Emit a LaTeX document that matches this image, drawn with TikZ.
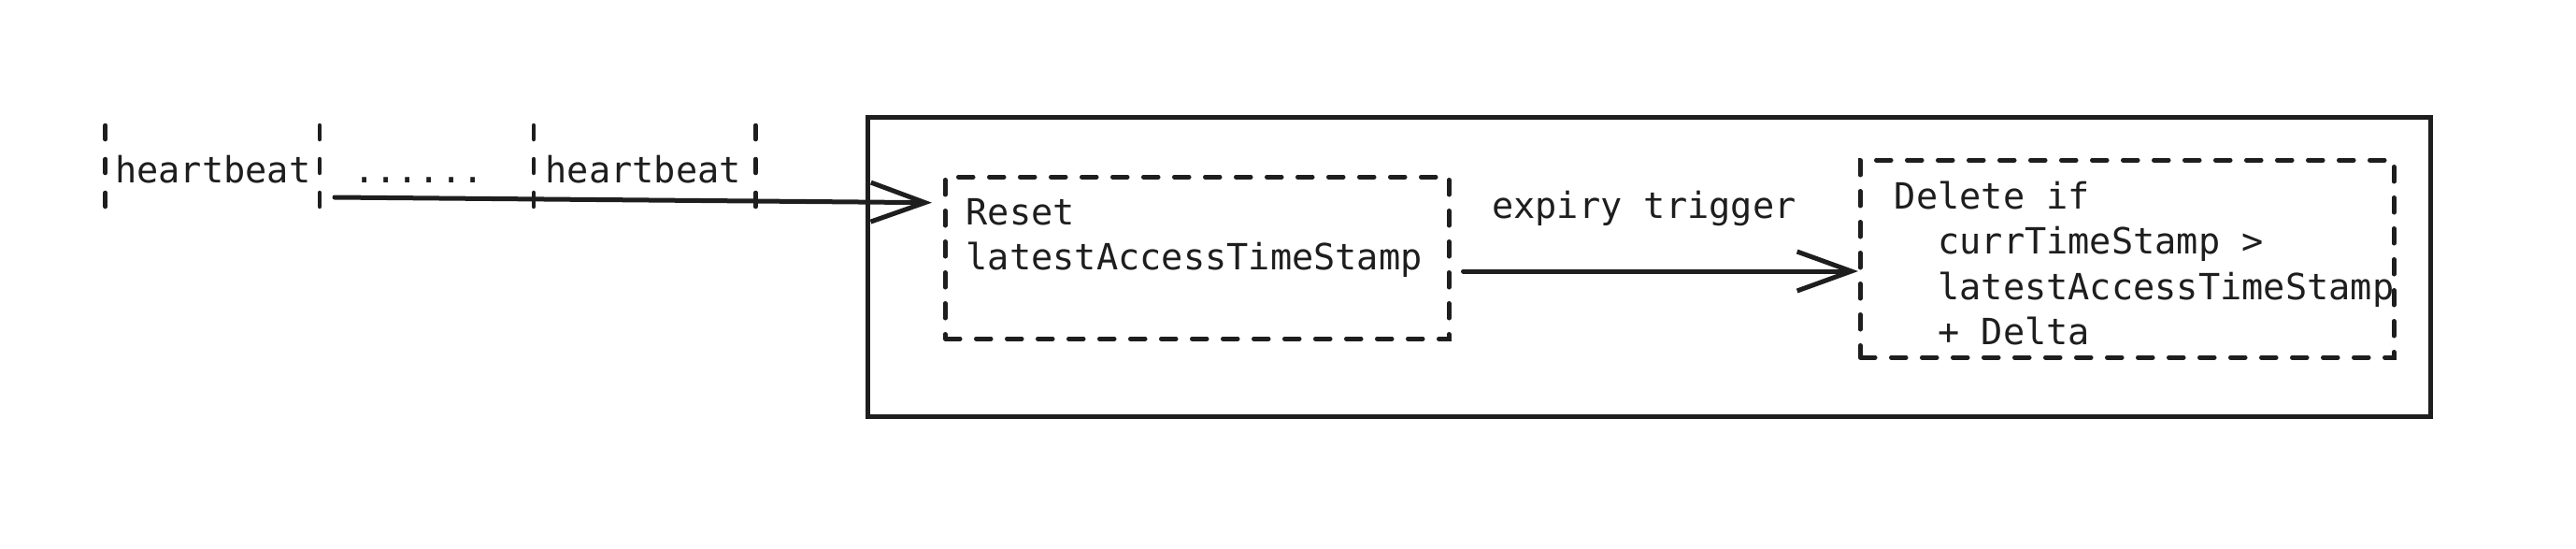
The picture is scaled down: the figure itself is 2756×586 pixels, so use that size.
\documentclass[tikz,border=0pt]{standalone}
\usepackage{fontspec}
\setmonofont{DejaVu Sans Mono}
\usetikzlibrary{arrows.meta}
\definecolor{ink}{HTML}{1E1E1E}
\begin{document}
\begin{tikzpicture}[x=1pt,y=-1pt,
  txt/.style={font=\ttfamily\fontsize{38.6pt}{48.5pt}\selectfont, inner sep=0pt, anchor=base west, text=ink},
  tick/.style={line width=4.5pt, line cap=round, dash pattern=on 15pt off 21pt, draw=ink},
  dbox/.style={draw=ink, line width=4.5pt, dash pattern=on 16pt off 17pt, line cap=round, rectangle, inner sep=0pt, anchor=north west},
  cont/.style={draw=ink, line width=4.5pt, rectangle, inner sep=0pt, anchor=north west},
  conn/.style={draw=ink, line width=5pt, line cap=round, -{Straight Barb[length=58pt,width=42pt,line width=5pt]}}
]
\useasboundingbox (0,0) rectangle (2756,586);
% container
\node[cont, minimum width=1672pt, minimum height=320pt] (outer) at (926,123) {};
% ticks
\foreach \x/\n in {112.7/t1, 342/t2, 571/t3, 808.5/t4} {
  \coordinate (\n top) at (\x,134);
  \coordinate (\n bot) at (\x,224);
  \draw[tick] (\n top) -- (\n bot);
}
% heartbeat labels
\node[txt] (hb1) at (123,195) {heartbeat};
\node[txt] (dots) at (378,195) {......};
\node[txt] (hb2) at (583.5,195) {heartbeat};
% reset box
\node[dbox, minimum width=539pt, minimum height=173pt] (reset) at (1009,187) {};
\node[txt] (resetA) at (1033.5,240) {Reset};
\node[txt] (resetB) at (1033.5,288.5) {latestAccessTimeStamp};
% delete box
\node[dbox, minimum width=571pt, minimum height=211pt] (delete) at (1988,169) {};
\node[txt] (delA) at (2026.6,223) {Delete if};
\node[txt] (delB) at (2026.6,271.5) {\ \ currTimeStamp >};
\node[txt] (delC) at (2026.6,320) {\ \ latestAccessTimeStamp};
\node[txt] (delD) at (2026.6,368.5) {\ \ + Delta};
% label
\node[txt] (lbl) at (1596,233) {expiry trigger};
% connectors
\coordinate (a1s) at (358,211);
\coordinate (a1e) at (997,216.7);
\draw[conn] (a1s) -- (a1e);
\coordinate (a2) at (0,290);
\draw[conn] ([xshift=13pt]reset.east |- a2) -- (delete.west |- a2);
\end{tikzpicture}
\end{document}
